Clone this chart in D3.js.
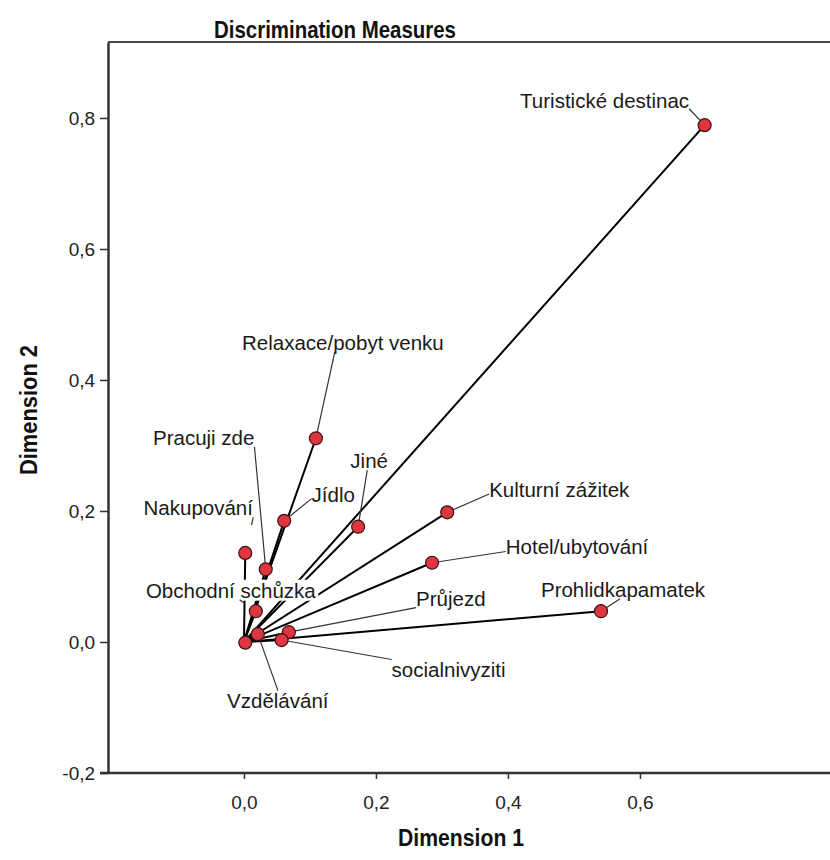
<!DOCTYPE html>
<html>
<head>
<meta charset="utf-8">
<script src="https://cdn.jsdelivr.net/npm/d3@7"></script>
<style>
  body { margin: 0; background: #fff; }
  svg { display: block; font-family: "Liberation Sans", Arial, sans-serif; }
</style>
</head>
<body>
<script>
// variables and their discrimination measures
const names = ["Turistické destinac", "Relaxace/pobyt venku", "Pracuji zde", "Nakupování", "Jídlo", "Jiné",
  "Kulturní zážitek", "Hotel/ubytování", "Prohlidkapamatek", "Obchodní schůzka", "Průjezd",
  "socialnivyziti", "Vzdělávání", ""];
const dim1 = [0.698, 0.109, 0.033, 0.002, 0.061, 0.173, 0.308, 0.285, 0.541, 0.018, 0.068, 0.057, 0.021, 0.002];
const dim2 = [0.789, 0.311, 0.111, 0.136, 0.185, 0.176, 0.198, 0.121, 0.047, 0.047, 0.015, 0.003, 0.012, -0.001];

const xTicks = [0, 0.2, 0.4, 0.6];
const yTicks = [-0.2, 0, 0.2, 0.4, 0.6, 0.8];

// label placement, pixels from the point (layout only)
const labelOffset = [[-100, -25], [27, -96], [-62, -132], [-47, -45], [49, -26], [11, -66],
  [112, -23], [145, -16], [22, -22], [-25, -21], [162, -34], [167, 29], [20, 66], [0, 0]];
// where the leader meets the label box (fraction of width, height), and max length
const leaderAnchor = [[1, 0.95], [0.46, 1], [1, 1], [1, 1], [0, 0.7], [0.45, 1],
  [0, 0.75], [0, 0.75], [0.48, 1], [0.55, 1], [0, 1], [0, 0], [0.5, 0], [0.5, 0.5]];
const leaderMax = [null, null, null, 8, null, null, null, null, null, 6, null, null, null, 0];

const w = 830, h = 860;
const mLeft = 108, mTop = 42, mRight = 832, mBottom = 773;

const fmt = d => d3.format(".1f")(d).replace(".", ",").replace("−", "-");

const x = d3.scaleLinear().domain([-0.206, 0.891]).range([mLeft, mRight]);
const y = d3.scaleLinear().domain([-0.2, 0.916]).range([mBottom, mTop]);

const svg = d3.select("body").append("svg").attr("width", w).attr("height", h);

// frame top
svg.append("line")
  .attr("x1", mLeft).attr("x2", w + 10).attr("y1", mTop).attr("y2", mTop)
  .attr("stroke", "#4a4a4a").attr("stroke-width", 2);

// axes
const xAxis = d3.axisBottom(x).tickValues(xTicks).tickFormat(fmt).tickSize(6).tickSizeOuter(0);
const yAxis = d3.axisLeft(y).tickValues(yTicks).tickFormat(fmt).tickSize(8).tickSizeOuter(0);

const gx = svg.append("g").attr("transform", `translate(0,${mBottom})`).call(xAxis);
const gy = svg.append("g").attr("transform", `translate(${mLeft},0)`).call(yAxis);

[gx, gy].forEach(g => {
  g.select(".domain").attr("stroke", "#333").attr("stroke-width", 2.5);
  g.selectAll(".tick line").attr("stroke", "#333").attr("stroke-width", 1.5);
  g.selectAll(".tick text").attr("fill", "#222").style("font-size", "19px");
});
gx.select(".domain").attr("d", `M${mLeft - 8},0H${w + 10}`);
gx.selectAll(".tick text").attr("dy", "1.4em");
gy.selectAll(".tick text").attr("dx", "-0.1em");

// titles
function boldText(tx, ty, rot, len, str) {
  svg.append("text")
    .attr("transform", `translate(${tx},${ty}) rotate(${rot})`)
    .attr("x", -len / 2)
    .attr("textLength", len).attr("lengthAdjust", "spacingAndGlyphs")
    .style("font-size", "24px").style("font-weight", "bold")
    .attr("fill", "#111").text(str);
}
boldText(335, 38, 0, 242, "Discrimination Measures");
boldText(461, 846, 0, 126, "Dimension 1");
boldText(37, 410, -90, 130, "Dimension 2");

const pts = names.map((n, i) => ({ name: n, px: x(dim1[i]), py: y(dim2[i]), off: labelOffset[i],
  anchor: leaderAnchor[i], maxLen: leaderMax[i] }));

// vectors from the origin
svg.append("g").selectAll("line").data(pts).enter().append("line")
  .attr("x1", x(0)).attr("y1", y(0))
  .attr("x2", d => d.px).attr("y2", d => d.py)
  .attr("stroke", "#000").attr("stroke-width", 2);

// labels with white boxes
const labels = svg.append("g");
const leaders = svg.append("g");
pts.filter(d => d.name !== "").forEach(d => {
  const g = labels.append("g");
  const t = g.append("text")
    .attr("x", d.px + d.off[0]).attr("y", d.py + d.off[1])
    .attr("text-anchor", "middle").attr("dominant-baseline", "central")
    .style("font-size", "20.5px").attr("fill", "#1a1a1a")
    .text(d.name);
  const b = t.node().getBBox();
  g.insert("rect", "text")
    .attr("x", b.x - 2).attr("y", b.y + 1).attr("width", b.width + 4).attr("height", b.height - 2)
    .attr("fill", "#fff");
  const lx = b.x + d.anchor[0] * b.width;
  const ly = b.y + 2 + d.anchor[1] * (b.height - 4);
  let sx = d.px, sy = d.py;
  if (d.maxLen != null) {
    const dist = Math.hypot(d.px - lx, d.py - ly);
    sx = lx + (d.px - lx) * d.maxLen / dist;
    sy = ly + (d.py - ly) * d.maxLen / dist;
  }
  leaders.append("line")
    .attr("x1", sx).attr("y1", sy).attr("x2", lx).attr("y2", ly)
    .attr("stroke", "#333").attr("stroke-width", 1.2);
});

// points
svg.append("g").selectAll("circle").data(pts).enter().append("circle")
  .attr("cx", d => d.px).attr("cy", d => d.py).attr("r", 6.5)
  .attr("fill", "#dc3640").attr("stroke", "#3b1214").attr("stroke-width", 1.2);
</script>
</body>
</html>
